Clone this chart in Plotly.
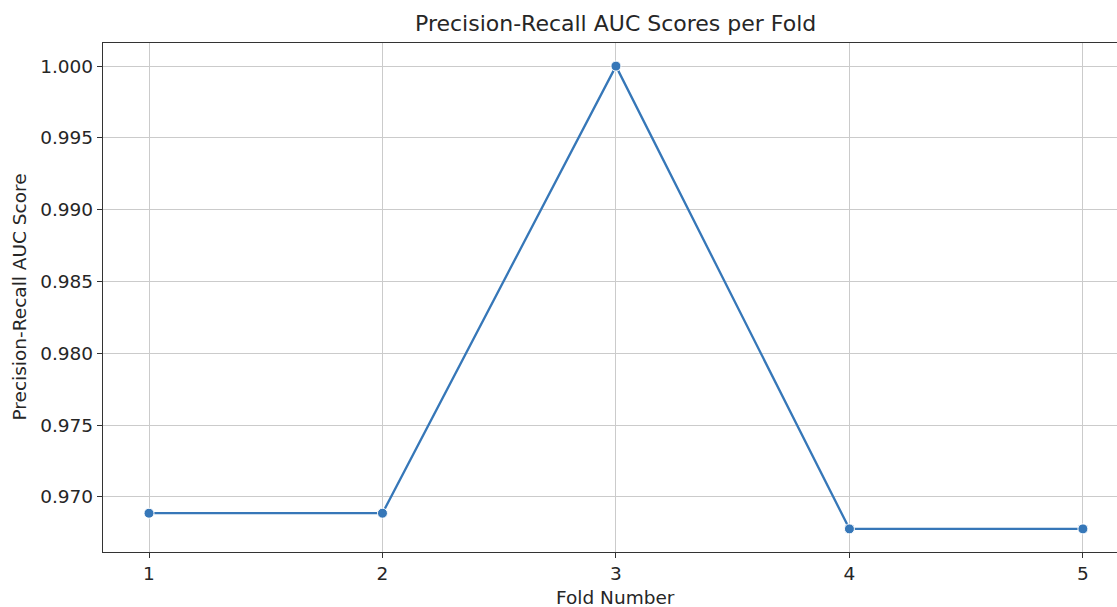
import plotly.graph_objects as go

folds = [1, 2, 3, 4, 5]
pr_auc = [0.96887, 0.96887, 1.0, 0.96778, 0.96778]
y_ticks = [0.970, 0.975, 0.980, 0.985, 0.990, 0.995, 1.000]
title_text = "Precision-Recall AUC Scores per Fold"
x_label = "Fold Number"
y_label = "Precision-Recall AUC Score"

W, H = 1117, 607
ml, mr, mt, mb = 103, 0, 43, 55
pw, ph = W - ml - mr, H - mt - mb

FONT = "DejaVu Sans"
TXT = "#262626"
SPINE = "#333333"
GRID = "#cbcbcb"
BLUE = "#3677b8"
FS = 18.5

def py(abs_y):
    return (H - mb - abs_y) / ph

def px(abs_x):
    return (abs_x - ml) / pw

fig = go.Figure()
fig.add_trace(go.Scatter(
    x=folds, y=pr_auc, mode="lines+markers",
    line=dict(color=BLUE, width=2.3),
    marker=dict(size=10, color=BLUE, line=dict(color="white", width=1)),
    showlegend=False, hoverinfo="x+y",
))

fig.update_layout(
    width=W, height=H,
    margin=dict(l=ml, r=mr, t=mt, b=mb, pad=0),
    paper_bgcolor="white", plot_bgcolor="white",
    font=dict(family=FONT, size=FS, color=TXT),
    xaxis=dict(
        range=[0.803, 5.146], tickmode="array", tickvals=folds,
        ticktext=[str(f) for f in folds],
        showgrid=True, gridcolor=GRID, gridwidth=1.2,
        showline=True, linecolor=SPINE, linewidth=1.3, mirror=True,
        ticks="outside", ticklen=5, tickwidth=1.1, tickcolor=SPINE,
        zeroline=False, tickfont=dict(family=FONT, size=FS, color=TXT),
    ),
    yaxis=dict(
        range=[0.96617, 1.00161], tickmode="array", tickvals=y_ticks,
        ticktext=[f"{v:.3f}" for v in y_ticks],
        showgrid=True, gridcolor=GRID, gridwidth=1.2,
        showline=True, linecolor=SPINE, linewidth=1.3, mirror=False,
        ticks="outside", ticklen=5, tickwidth=1.1, tickcolor=SPINE,
        zeroline=False, tickfont=dict(family=FONT, size=FS, color=TXT),
    ),
    annotations=[
        dict(text=title_text, xref="x", x=3, yref="paper", y=py(23),
             xanchor="center", yanchor="middle", showarrow=False,
             font=dict(family=FONT, size=22, color=TXT)),
        dict(text=x_label, xref="x", x=3, yref="paper", y=py(597),
             xanchor="center", yanchor="middle", showarrow=False,
             font=dict(family=FONT, size=FS, color=TXT)),
        dict(text=y_label, xref="paper", x=px(19), yref="paper", y=0.5,
             xanchor="center", yanchor="middle", showarrow=False, textangle=-90,
             font=dict(family=FONT, size=FS, color=TXT)),
    ],
)

fig.write_html(
    "out.html",
    config={"displayModeBar": False},
    post_script="document.body.style.margin='0';document.body.style.overflow='hidden';",
)
